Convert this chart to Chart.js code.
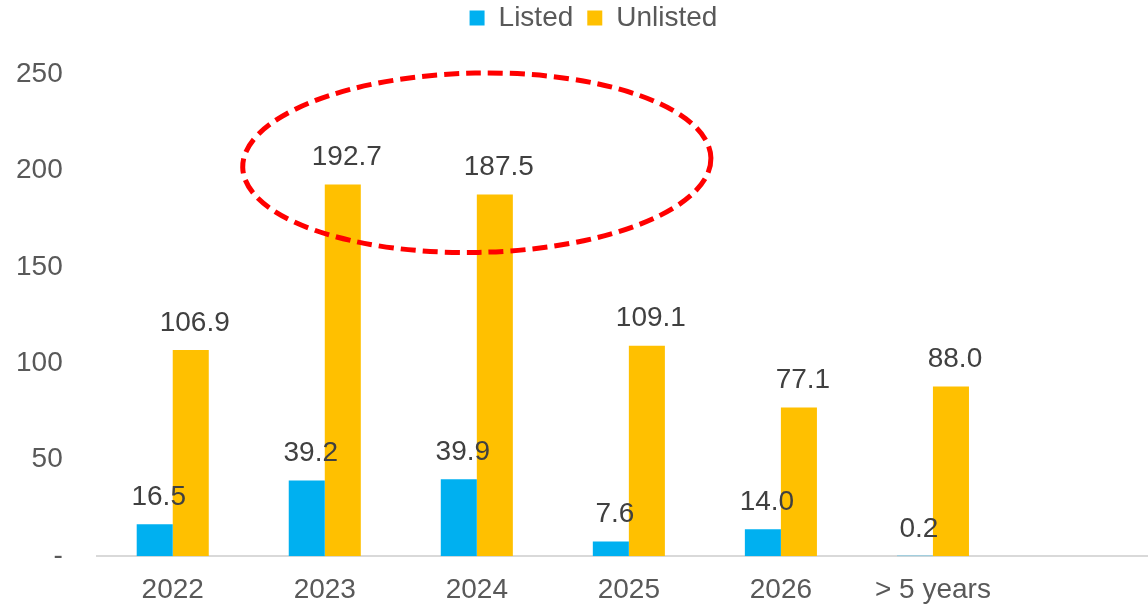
<!DOCTYPE html>
<html>
<head>
<meta charset="utf-8">
<script src="https://cdn.jsdelivr.net/npm/chart.js@4.4.0/dist/chart.umd.min.js"></script>
<style>
  html, body { margin: 0; padding: 0; background: #fff; overflow: hidden; }
  #maturityChart { display: block; }
</style>
</head>
<body>
<canvas id="maturityChart" width="1161" height="607"></canvas>
<script>
// maturity buckets (last one is an empty slot on the right)
const categories = ['2022', '2023', '2024', '2025', '2026', '> 5 years', ''];
const listed = [16.5, 39.2, 39.9, 7.6, 14.0, 0.2, null];
const unlisted = [106.9, 192.7, 187.5, 109.1, 77.1, 88.0, null];
const yTicks = [0, 50, 100, 150, 200, 250];

const FONT = "'Liberation Sans', Arial, sans-serif";

// value labels above each bar
const barLabels = {
  id: 'barLabels',
  afterDatasetsDraw(chart) {
    const ctx = chart.ctx;
    ctx.save();
    ctx.font = '28px ' + FONT;
    ctx.fillStyle = '#404040';
    ctx.textAlign = 'center';
    ctx.textBaseline = 'middle';
    chart.data.datasets.forEach((ds, i) => {
      chart.getDatasetMeta(i).data.forEach((bar, j) => {
        const v = ds.data[j];
        if (v === null) return;
        ctx.fillText(v.toFixed(1), bar.x + 4, bar.y - 27);
      });
    });
    ctx.restore();
  }
};

// dashed red ring around the 2023/2024 peak
const highlight = {
  id: 'highlight',
  afterDatasetsDraw(chart) {
    const x = chart.scales.x, y = chart.scales.y;
    const step = x.getPixelForValue(1) - x.getPixelForValue(0);
    const cx = x.getPixelForValue(2);
    const cy = y.getPixelForValue(204);
    const rx = step * 1.54;
    const ry = y.getPixelForValue(204) - y.getPixelForValue(250.5);
    const ctx = chart.ctx;
    ctx.save();
    ctx.strokeStyle = '#ff0000';
    ctx.lineWidth = 5;
    ctx.setLineDash([15, 7]);
    ctx.beginPath();
    ctx.ellipse(cx, cy, rx, ry, -0.02, 0, Math.PI * 2);
    ctx.stroke();
    ctx.restore();
  }
};

// extra room between the legend and the plot, legend nudged right
const legendGap = {
  id: 'legendGap',
  beforeInit(chart) {
    const fit = chart.legend.fit;
    chart.legend.fit = function () {
      fit.bind(chart.legend)();
      this.height += 32;
    };
  },
  afterLayout(chart) {
    chart.legend.left += 22;
    chart.legend.right += 22;
  }
};

new Chart(document.getElementById('maturityChart'), {
  type: 'bar',
  data: {
    labels: categories,
    datasets: [{
      label: 'Listed',
      data: listed,
      backgroundColor: '#00b0f0',
      barPercentage: 1,
      categoryPercentage: 0.474
    }, {
      label: 'Unlisted',
      data: unlisted,
      backgroundColor: '#ffc000',
      barPercentage: 1,
      categoryPercentage: 0.474
    }]
  },
  options: {
    responsive: false,
    animation: false,
    layout: {
      padding: { left: -18, right: 0, top: -10, bottom: -18 }
    },
    plugins: {
      tooltip: { enabled: false },
      legend: {
        position: 'top',
        labels: {
          boxWidth: 15,
          boxHeight: 15,
          padding: 14,
          color: '#595959',
          font: { family: FONT, size: 28 }
        }
      }
    },
    scales: {
      x: {
        grid: { display: false, drawTicks: false },
        border: { display: true, color: '#d9d9d9', width: 2 },
        ticks: {
          color: '#595959',
          padding: 17,
          maxRotation: 0,
          font: { family: FONT, size: 28, lineHeight: 1.2 }
        }
      },
      y: {
        min: 0,
        max: 250,
        afterBuildTicks(scale) {
          scale.ticks = yTicks.map(v => ({ value: v }));
        },
        grid: { display: false, drawTicks: false },
        border: { display: false },
        ticks: {
          color: '#595959',
          padding: 34,
          font: { family: FONT, size: 28 },
          callback: v => v === 0 ? '-' : v
        }
      }
    }
  },
  plugins: [barLabels, highlight, legendGap]
});
</script>
</body>
</html>
